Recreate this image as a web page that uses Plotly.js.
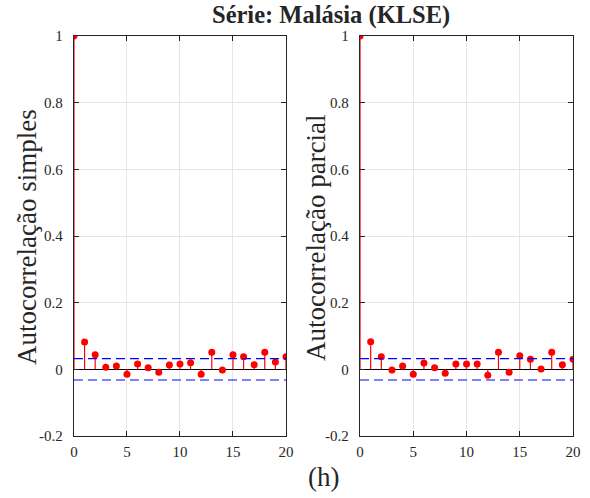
<!DOCTYPE html>
<html><head><meta charset="utf-8">
<script src="https://cdn.plot.ly/plotly-3.0.1.min.js"></script>
<style>html,body{margin:0;padding:0;background:#fff}</style>
</head><body><div id="chart" style="width:590px;height:498px"></div>
<script>
const lags = [0,1,2,3,4,5,6,7,8,9,10,11,12,13,14,15,16,17,18,19,20];
const acf  = [1,0.082,0.044,0.006,0.010,-0.015,0.016,0.005,-0.009,0.013,0.016,0.020,-0.015,0.051,-0.002,0.044,0.038,0.014,0.051,0.022,0.038];
const pacf = [1,0.083,0.038,-0.002,0.010,-0.015,0.019,0.005,-0.012,0.016,0.016,0.016,-0.018,0.051,-0.009,0.041,0.030,0.001,0.051,0.014,0.030];
const bound = 0.032;
const boundX = [0,20];
const yTickVals = [-0.2,0,0.2,0.4,0.6,0.8,1];
const yTickText = ['-0.2','0','0.2','0.4','0.6','0.8','1'];
const xTickVals = [0,5,10,15,20];
const titleText = 'Série: Malásia (KLSE)';
const yTitles = ['Autocorrelação simples','Autocorrelação parcial'];
const xTitle = '(h)';

function stems(x, y){
  const sx=[], sy=[];
  x.forEach((v,i)=>{ sx.push(v,v,null); sy.push(0,y[i],null); });
  return {sx, sy};
}
const font = 'Liberation Serif';
const traces = [];
[[acf,'x','y'],[pacf,'x2','y2']].forEach(([vals,xa,ya])=>{
  const s = stems(lags, vals);
  traces.push({x:s.sx,y:s.sy,xaxis:xa,yaxis:ya,mode:'lines',line:{color:'#ff0000',width:1.2},hoverinfo:'skip',showlegend:false});
  traces.push({x:lags,y:vals,xaxis:xa,yaxis:ya,mode:'markers',marker:{color:'#ff0000',size:7},showlegend:false});
  [bound,-bound].forEach(b=>{
    traces.push({x:boundX,y:boundX.map(()=>b),xaxis:xa,yaxis:ya,mode:'lines',line:{color:'#0000ff',width:1.2,dash:'9px,5px'},showlegend:false});
  });
});
function xaxis(domain, anchor){
  return {domain, anchor, range:[0,20], tickvals:xTickVals, ticks:'inside', ticklen:5, tickcolor:'#262626',
    showline:true, linecolor:'#262626', linewidth:1.3, mirror:'ticks', showgrid:true, gridcolor:'#e6e6e6', gridwidth:1,
    zeroline:false, ticklabelstandoff:2, tickfont:{family:font,size:15,color:'#262626'}};
}
function yaxis(anchor){
  return {domain:[0.1245,0.9277], anchor, range:[-0.2,1], tickvals:yTickVals, ticktext:yTickText, ticks:'inside', ticklen:5, tickcolor:'#262626',
    showline:true, linecolor:'#262626', linewidth:1.3, mirror:'ticks', showgrid:true, gridcolor:'#e6e6e6', gridwidth:1,
    zeroline:true, zerolinecolor:'#000000', zerolinewidth:1.5, ticklabelstandoff:7, tickfont:{family:font,size:15,color:'#262626'}};
}
const ann = (text,x,y,angle,size)=>({text, xref:'paper', yref:'paper', x:x/590, y:1-y/498, xanchor:'center', yanchor:'middle',
  textangle:angle||0, showarrow:false, font:{family:font,size:size||27,color:'#262626'}});
const layout = {
  width:590, height:498, margin:{l:0,r:0,t:0,b:0}, paper_bgcolor:'#fff', plot_bgcolor:'#fff',
  font:{family:font},
  xaxis: xaxis([0.1254,0.4847],'y'), yaxis: yaxis('x'),
  xaxis2: xaxis([0.6102,0.9712],'y2'), yaxis2: yaxis('x2'),
  annotations:[
    ann('<b>'+titleText+'</b>',331,14.5,0,24.5),
    ann(yTitles[0],27,237,-90),
    ann(yTitles[1],316,238,-90),
    ann(xTitle,323,477)
  ]
};
Plotly.newPlot('chart', traces, layout, {displayModeBar:false, staticPlot:true});
</script></body></html>
